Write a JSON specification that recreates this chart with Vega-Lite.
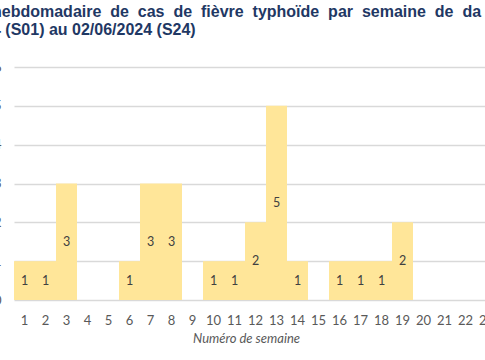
{
  "$schema": "https://vega.github.io/schema/vega-lite/v6.json",
  "width": 504,
  "height": 233,
  "autosize": {"type": "none"},
  "padding": {"left": 14, "top": 67, "right": 0, "bottom": 60},
  "background": "white",
  "title": {
    "text": ["hebdomadaire\u00a0 de\u00a0 cas\u00a0 de\u00a0 fièvre\u00a0 typhoïde\u00a0 par\u00a0 semaine\u00a0 de\u00a0 da", "4 (S01) au 02/06/2024 (S24)"],
    "anchor": "start",
    "frame": "group",
    "dx": -22,
    "font": "Liberation Sans",
    "fontSize": 16,
    "fontWeight": "bold",
    "color": "#1F3864",
    "lineHeight": 18,
    "offset": 23
  },
  "data": {
    "values": [
      {"semaine": "1", "cas": 1}, {"semaine": "2", "cas": 1}, {"semaine": "3", "cas": 3},
      {"semaine": "4", "cas": 0}, {"semaine": "5", "cas": 0}, {"semaine": "6", "cas": 1},
      {"semaine": "7", "cas": 3}, {"semaine": "8", "cas": 3}, {"semaine": "9", "cas": 0},
      {"semaine": "10", "cas": 1}, {"semaine": "11", "cas": 1}, {"semaine": "12", "cas": 2},
      {"semaine": "13", "cas": 5}, {"semaine": "14", "cas": 1}, {"semaine": "15", "cas": 0},
      {"semaine": "16", "cas": 1}, {"semaine": "17", "cas": 1}, {"semaine": "18", "cas": 1},
      {"semaine": "19", "cas": 2}, {"semaine": "20", "cas": 0}, {"semaine": "21", "cas": 0},
      {"semaine": "22", "cas": 0}, {"semaine": "23", "cas": 0}, {"semaine": "24", "cas": 0}
    ]
  },
  "config": {"view": {"stroke": null}},
  "encoding": {
    "x": {
      "field": "semaine", "type": "ordinal", "sort": null,
      "scale": {"paddingInner": 0, "paddingOuter": 0},
      "axis": {
        "title": "Numéro de semaine",
        "titleFont": "Lato", "titleFontSize": 13, "titleFontStyle": "italic", "titleFontWeight": "normal",
        "titleColor": "#595959", "titleX": 232, "titleY": 38, "titleBaseline": "middle", "titleAlign": "center",
        "labelAngle": 0, "labelFont": "Lato", "labelFontSize": 13, "labelColor": "#595959",
        "labelPadding": 14, "labelOverlap": false, "ticks": false, "domain": false
      }
    }
  },
  "layer": [
    {
      "mark": {"type": "bar", "color": "#FFE699"},
      "encoding": {
        "y": {
          "field": "cas", "type": "quantitative",
          "scale": {"domain": [0, 6], "nice": false},
          "axis": {
            "title": null, "values": [0, 1, 2, 3, 4, 5, 6], "labelOverlap": false,
            "grid": true, "gridColor": "#D9D9D9", "gridWidth": 1.5,
            "domain": false, "ticks": false,
            "labelFont": "Lato", "labelFontSize": 13, "labelColor": "#595959", "labelPadding": 13
          }
        }
      }
    },
    {
      "transform": [{"filter": "datum.cas > 0"}],
      "mark": {"type": "text", "font": "Lato", "fontSize": 12.5, "color": "#404040", "baseline": "middle"},
      "encoding": {
        "y": {"field": "cas", "type": "quantitative", "scale": {"domain": [0, 12], "nice": false}, "axis": null},
        "text": {"field": "cas", "type": "quantitative"}
      }
    }
  ],
  "resolve": {"scale": {"y": "independent"}}
}
